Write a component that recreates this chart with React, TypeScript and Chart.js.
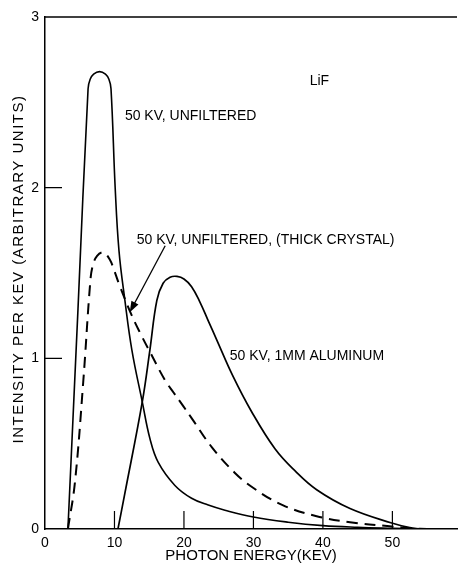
import React, { useEffect, useRef } from "react";
import { Chart, registerables } from "chart.js";

Chart.register(...registerables);

// Spectra: photon energy (keV) vs intensity per keV (arbitrary units)
const unfilteredKeV = [3.3, 4.75, 6.2, 6.5, 7.0, 7.85, 8.7, 9.2, 9.5, 10.1, 10.65, 11.5, 12.5, 14.0, 15.1, 16.3, 18.7, 21.1, 23.5, 25.9, 30, 35, 40, 45, 50, 54];
const unfilteredIntensity = [0, 1.29, 2.58, 2.635, 2.665, 2.68, 2.665, 2.635, 2.58, 2.0, 1.63, 1.34, 1.05, 0.745, 0.53, 0.39, 0.255, 0.18, 0.14, 0.11, 0.07, 0.04, 0.02, 0.01, 0.004, 0];

const thickCrystalKeV = [3.3, 4.3, 5.5, 6.5, 6.85, 7.5, 8.4, 9.3, 10.0, 10.8, 12.5, 13.8, 15.2, 17.3, 18.5, 19.9, 21.1, 24.0, 27.3, 30, 34.2, 39.1, 43.9, 49.6, 53, 55];
const thickCrystalIntensity = [0, 0.27, 0.86, 1.44, 1.54, 1.6, 1.62, 1.58, 1.51, 1.42, 1.25, 1.14, 1.03, 0.87, 0.8, 0.72, 0.65, 0.48, 0.33, 0.24, 0.14, 0.075, 0.04, 0.016, 0.004, 0];

const aluminumKeV = [10.5, 11.5, 14.0, 15.1, 16.1, 17.0, 18.0, 19.0, 20.0, 21.1, 22.3, 23.5, 24.7, 27.0, 29.7, 33.1, 36, 39.1, 43.9, 49.9, 52.5, 54];
const aluminumIntensity = [0, 0.21, 0.745, 1.05, 1.34, 1.44, 1.475, 1.48, 1.465, 1.42, 1.33, 1.22, 1.11, 0.9, 0.69, 0.47, 0.34, 0.23, 0.12, 0.035, 0.008, 0];

// Axis ticks
const xTickValues = [0, 10, 20, 30, 40, 50];
const yTickValues = [0, 1, 2, 3];
const xInnerTicks = [10, 20, 30, 40, 50];
const yInnerTicks = [1, 2];
const X_MAX = 59.3;
const Y_MAX = 3;

const xTitle = "PHOTON ENERGY(KEV)";
const yTitle = "INTENSITY PER KEV (ARBITRARY UNITS)";

const FONT = '"Liberation Sans", Arial, sans-serif';

// Curve labels, anchored in data coordinates (left edge, vertical centre)
const curveLabels = [
  { text: "LiF", x: 38.1, y: 2.625 },
  { text: "50 KV, UNFILTERED", x: 11.5, y: 2.42 },
  { text: "50 KV, UNFILTERED, (THICK CRYSTAL)", x: 13.2, y: 1.69 },
  { text: "50 KV, 1MM ALUMINUM", x: 26.6, y: 1.01 },
];
// Arrow pointing from the thick-crystal label to its dashed curve
const arrowFrom = { x: 17.3, y: 1.66 };
const arrowTo = { x: 12.2, y: 1.27 };

const toPoints = (xs: number[], ys: number[]) => xs.map((x, i) => ({ x, y: ys[i] }));

const decorPlugin = {
  id: "decor",
  afterDraw(chart: any) {
    const { ctx, chartArea: a, scales } = chart;
    const xs = scales.x;
    const ys = scales.y;
    ctx.save();
    ctx.strokeStyle = "#000";
    ctx.fillStyle = "#000";

    // top frame line
    ctx.lineWidth = 1.5;
    ctx.beginPath();
    ctx.moveTo(a.left, a.top);
    ctx.lineTo(a.right, a.top);
    ctx.stroke();

    // tick marks pointing into the plot
    ctx.lineWidth = 1.2;
    ctx.beginPath();
    for (const v of xInnerTicks) {
      const px = xs.getPixelForValue(v);
      ctx.moveTo(px, a.bottom);
      ctx.lineTo(px, a.bottom - 18);
    }
    for (const v of yInnerTicks) {
      const py = ys.getPixelForValue(v);
      ctx.moveTo(a.left, py);
      ctx.lineTo(a.left + 17, py);
    }
    ctx.stroke();

    // curve labels
    ctx.font = `14px ${FONT}`;
    ctx.textAlign = "left";
    ctx.textBaseline = "middle";
    for (const l of curveLabels) {
      ctx.fillText(l.text, xs.getPixelForValue(l.x), ys.getPixelForValue(l.y));
    }

    // arrow
    const x0 = xs.getPixelForValue(arrowFrom.x);
    const y0 = ys.getPixelForValue(arrowFrom.y);
    const x1 = xs.getPixelForValue(arrowTo.x);
    const y1 = ys.getPixelForValue(arrowTo.y);
    const ang = Math.atan2(y1 - y0, x1 - x0);
    const head = 11;
    const half = 4;
    ctx.lineWidth = 1.3;
    ctx.beginPath();
    ctx.moveTo(x0, y0);
    ctx.lineTo(x1 - Math.cos(ang) * head * 0.8, y1 - Math.sin(ang) * head * 0.8);
    ctx.stroke();
    ctx.beginPath();
    ctx.moveTo(x1, y1);
    const bx = x1 - Math.cos(ang) * head;
    const by = y1 - Math.sin(ang) * head;
    ctx.lineTo(bx + Math.sin(ang) * half, by - Math.cos(ang) * half);
    ctx.lineTo(bx - Math.sin(ang) * half, by + Math.cos(ang) * half);
    ctx.closePath();
    ctx.fill();

    // axis titles
    ctx.font = `15px ${FONT}`;
    ctx.textAlign = "center";
    ctx.fillText(xTitle, (a.left + a.right) / 2, chart.height - 7);

    ctx.save();
    ctx.translate(18.5, (a.top + a.bottom) / 2 - 4);
    ctx.rotate(-Math.PI / 2);
    (ctx as any).letterSpacing = "1.5px";
    ctx.fillText(yTitle, 0, 0);
    ctx.restore();

    ctx.restore();
  },
};

export default function App() {
  const canvasRef = useRef<HTMLCanvasElement | null>(null);

  useEffect(() => {
    if (!canvasRef.current) return;
    const lineBase = {
      type: "line" as const,
      pointRadius: 0,
      borderColor: "#000",
      fill: false,
      tension: 0.4,
    };
    const chart = new Chart(canvasRef.current, {
      type: "line",
      data: {
        datasets: [
          { ...lineBase, label: "50 KV, UNFILTERED", data: toPoints(unfilteredKeV, unfilteredIntensity), borderWidth: 1.6 },
          {
            ...lineBase,
            label: "50 KV, UNFILTERED, (THICK CRYSTAL)",
            data: toPoints(thickCrystalKeV, thickCrystalIntensity),
            borderWidth: 2,
            borderDash: [11, 7],
          },
          { ...lineBase, label: "50 KV, 1MM ALUMINUM", data: toPoints(aluminumKeV, aluminumIntensity), borderWidth: 1.7 },
        ],
      },
      options: {
        animation: false,
        responsive: true,
        maintainAspectRatio: false,
        layout: { padding: { top: 17, right: 1, left: 0, bottom: 0 } },
        plugins: { legend: { display: false }, tooltip: { enabled: false } },
        scales: {
          x: {
            type: "linear",
            min: 0,
            max: X_MAX,
            grid: { display: false, drawTicks: false },
            border: { display: true, color: "#000", width: 1.5 },
            afterBuildTicks: (scale: any) => {
              scale.ticks = xTickValues.map((v) => ({ value: v }));
            },
            afterFit: (scale: any) => {
              scale.height = 34;
            },
            ticks: {
              color: "#000",
              font: { family: FONT, size: 14 },
              padding: 6,
              maxRotation: 0,
              autoSkip: false,
            },
          },
          y: {
            type: "linear",
            min: 0,
            max: Y_MAX,
            grid: { display: false, drawTicks: false },
            border: { display: true, color: "#000", width: 1.5 },
            afterBuildTicks: (scale: any) => {
              scale.ticks = yTickValues.map((v) => ({ value: v }));
            },
            afterFit: (scale: any) => {
              scale.width = 45;
            },
            ticks: {
              color: "#000",
              font: { family: FONT, size: 14 },
              padding: 6,
            },
          },
        },
      },
      plugins: [decorPlugin],
    });
    return () => chart.destroy();
  }, []);

  return (
    <div style={{ position: "absolute", left: 0, top: 0, width: 458, height: 563, background: "#fff" }}>
      <canvas ref={canvasRef} />
    </div>
  );
}
